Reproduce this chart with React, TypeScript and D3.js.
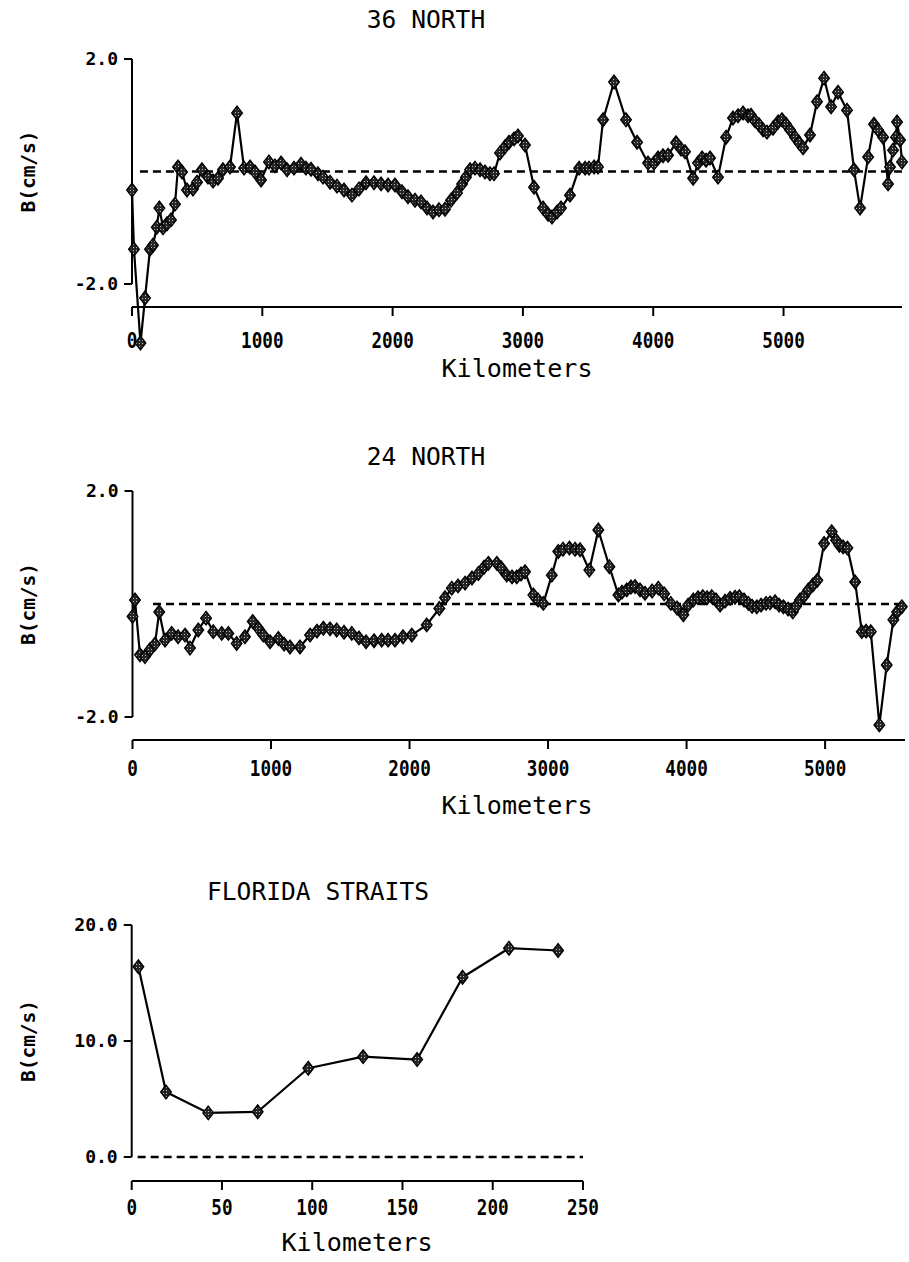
import React from "react";
import * as d3 from "d3";

// ---------- DATA ----------
// 36 NORTH: [kilometers, B (cm/s)]
const north36: [number, number][] = [
  [0, -0.33], [15, -1.38], [65, -3.05], [100, -2.25], [138, -1.38], [161, -1.31], [190, -0.99], [210, -0.65],
  [238, -1.0], [269, -0.93], [299, -0.86], [330, -0.58], [353, 0.08], [384, -0.01], [422, -0.33], [468, -0.31],
  [499, -0.19], [537, 0.03], [583, -0.1], [622, -0.17], [660, -0.12], [698, 0.03], [752, 0.08], [806, 1.04],
  [860, 0.06], [906, 0.08], [944, -0.01], [990, -0.15], [1051, 0.17], [1097, 0.1], [1144, 0.15], [1190, 0.03],
  [1243, 0.06], [1297, 0.13], [1335, 0.06], [1374, 0.04], [1427, -0.04], [1466, -0.1], [1520, -0.19], [1573, -0.26],
  [1627, -0.33], [1688, -0.42], [1742, -0.31], [1796, -0.2], [1857, -0.2], [1911, -0.22], [1965, -0.24], [2018, -0.24],
  [2072, -0.36], [2118, -0.45], [2172, -0.51], [2218, -0.54], [2264, -0.65], [2310, -0.72], [2356, -0.68], [2402, -0.67],
  [2448, -0.51], [2494, -0.38], [2533, -0.22], [2563, -0.1], [2594, 0.03], [2632, 0.06], [2671, 0.03], [2709, -0.01],
  [2747, -0.04], [2778, -0.04], [2824, 0.33], [2863, 0.44], [2893, 0.52], [2932, 0.58], [2962, 0.63], [3016, 0.47],
  [3085, -0.28], [3154, -0.65], [3193, -0.76], [3223, -0.81], [3262, -0.72], [3292, -0.65], [3361, -0.42], [3431, 0.06],
  [3477, 0.06], [3507, 0.06], [3546, 0.08], [3576, 0.08], [3615, 0.92], [3699, 1.59], [3791, 0.92], [3876, 0.52],
  [3960, 0.15], [4006, 0.15], [4037, 0.24], [4075, 0.28], [4114, 0.29], [4175, 0.51], [4213, 0.4], [4244, 0.35],
  [4306, -0.12], [4344, 0.15], [4375, 0.24], [4405, 0.2], [4436, 0.24], [4497, -0.1], [4559, 0.61], [4612, 0.95],
  [4651, 0.99], [4689, 1.04], [4727, 0.99], [4750, 1.0], [4781, 0.9], [4812, 0.83], [4843, 0.74], [4873, 0.7],
  [4919, 0.77], [4958, 0.88], [4988, 0.92], [5019, 0.84], [5050, 0.74], [5088, 0.61], [5119, 0.51], [5150, 0.42],
  [5203, 0.65], [5257, 1.24], [5311, 1.66], [5365, 1.15], [5418, 1.41], [5487, 1.09], [5541, 0.03], [5587, -0.65],
  [5649, 0.26], [5694, 0.84], [5725, 0.74], [5764, 0.61], [5802, -0.22], [5817, 0.08], [5840, 0.38], [5863, 0.61],
  [5871, 0.88], [5894, 0.56], [5909, 0.17],
];

// 24 NORTH: [kilometers, B (cm/s)]
const north24: [number, number][] = [
  [0, -0.22], [18, 0.07], [54, -0.9], [90, -0.93], [126, -0.81], [162, -0.71], [193, -0.14], [235, -0.64],
  [283, -0.52], [329, -0.58], [379, -0.55], [415, -0.78], [475, -0.46], [531, -0.25], [583, -0.49], [644, -0.52],
  [692, -0.52], [752, -0.7], [812, -0.58], [868, -0.31], [908, -0.43], [944, -0.55], [993, -0.67], [1053, -0.61],
  [1094, -0.71], [1137, -0.76], [1209, -0.76], [1282, -0.55], [1332, -0.48], [1378, -0.43], [1426, -0.44], [1474, -0.46],
  [1527, -0.5], [1583, -0.52], [1635, -0.6], [1686, -0.67], [1744, -0.65], [1799, -0.64], [1845, -0.64], [1895, -0.64],
  [1953, -0.58], [2016, -0.55], [2124, -0.37], [2215, -0.08], [2256, 0.11], [2305, 0.28], [2350, 0.32], [2401, 0.37],
  [2451, 0.46], [2497, 0.54], [2538, 0.65], [2569, 0.72], [2630, 0.72], [2661, 0.64], [2702, 0.51], [2740, 0.48],
  [2774, 0.48], [2805, 0.53], [2834, 0.57], [2894, 0.16], [2928, 0.07], [2966, 0.01], [3027, 0.51], [3074, 0.93],
  [3108, 0.97], [3154, 0.99], [3195, 0.97], [3231, 0.96], [3298, 0.6], [3363, 1.31], [3443, 0.66], [3508, 0.16],
  [3534, 0.21], [3568, 0.25], [3599, 0.3], [3628, 0.31], [3664, 0.25], [3700, 0.19], [3751, 0.23], [3796, 0.28],
  [3838, 0.18], [3886, 0.01], [3931, -0.07], [3977, -0.19], [4011, -0.02], [4049, 0.07], [4083, 0.11], [4117, 0.13],
  [4148, 0.11], [4182, 0.13], [4213, 0.07], [4242, -0.02], [4278, 0.05], [4314, 0.1], [4350, 0.12], [4381, 0.13],
  [4415, 0.07], [4446, 0.01], [4473, -0.04], [4507, -0.05], [4538, -0.02], [4574, 0.01], [4603, 0.02], [4639, 0.04],
  [4668, -0.02], [4699, -0.05], [4733, -0.09], [4767, -0.14], [4791, -0.04], [4819, 0.07], [4848, 0.14], [4879, 0.25],
  [4913, 0.34], [4944, 0.42], [4993, 1.07], [5048, 1.28], [5079, 1.13], [5103, 1.04], [5130, 1.01], [5161, 0.99],
  [5217, 0.39], [5265, -0.49], [5296, -0.48], [5330, -0.49], [5392, -2.14], [5445, -1.08], [5493, -0.28], [5520, -0.14],
  [5554, -0.05],
];

// FLORIDA STRAITS: [kilometers, B (cm/s)]
const florida: [number, number][] = [
  [3.7, 16.4], [19, 5.6], [42.4, 3.8], [69.8, 3.9], [97.8, 7.65], [128.2, 8.65], [158.1, 8.4], [183.3, 15.5],
  [209, 18.0], [236.2, 17.8],
];

const ticks36X = [0, 1000, 2000, 3000, 4000, 5000];
const ticks24X = [0, 1000, 2000, 3000, 4000, 5000];
const ticksFlX = [0, 50, 100, 150, 200, 250];
const ticks36Y = [-2, 2];
const ticks24Y = [-2, 2];
const ticksFlY = [0, 10, 20];

const titles = ["36 NORTH", "24 NORTH", "FLORIDA STRAITS"];
const xLabel = "Kilometers";
const yLabel = "B(cm/s)";

// ---------- LAYOUT ----------
const FONT = "'DejaVu Sans Mono', 'Liberation Mono', monospace";

type PanelCfg = {
  data: [number, number][];
  xDomain: [number, number];
  xRange: [number, number];
  yDomain: [number, number];
  yRange: [number, number];
  xTicks: number[];
  yTicks: number[];
  xAxisY: number;
  zeroFrom: number;
  title: string;
  titleX: number;
  titleY: number;
  tickLabelY: number;
  kmX: number;
  kmY: number;
  yLabelX: number;
};

const panels: PanelCfg[] = [
  {
    data: north36, xDomain: [0, 5909], xRange: [132, 902], yDomain: [-2, 2], yRange: [284, 59],
    xTicks: ticks36X, yTicks: ticks36Y, xAxisY: 307, zeroFrom: 61, title: titles[0],
    titleX: 426, titleY: 28, tickLabelY: 348, kmX: 517, kmY: 377, yLabelX: 28,
  },
  {
    data: north24, xDomain: [0, 5577], xRange: [132.5, 905], yDomain: [-2, 2], yRange: [717, 491],
    xTicks: ticks24X, yTicks: ticks24Y, xAxisY: 740, zeroFrom: 148, title: titles[1],
    titleX: 426, titleY: 465, tickLabelY: 776, kmX: 517, kmY: 814, yLabelX: 28,
  },
  {
    data: florida, xDomain: [0, 250], xRange: [131.7, 583], yDomain: [0, 20], yRange: [1157, 925],
    xTicks: ticksFlX, yTicks: ticksFlY, xAxisY: 1181, zeroFrom: 3.3, title: titles[2],
    titleX: 318, titleY: 900, tickLabelY: 1215, kmX: 357, kmY: 1251, yLabelX: 28,
  },
];

function diamond(x: number, y: number, w = 5.3, h = 6.8) {
  return `M${x},${y - h}L${x + w},${y}L${x},${y + h}L${x - w},${y}Z`;
}

function Panel({ cfg }: { cfg: PanelCfg }) {
  const x = d3.scaleLinear().domain(cfg.xDomain).range(cfg.xRange);
  const y = d3.scaleLinear().domain(cfg.yDomain).range(cfg.yRange);
  const line = d3
    .line<[number, number]>()
    .x((d) => x(d[0]))
    .y((d) => y(d[1]));
  const x0 = cfg.xRange[0];
  const yTop = y(d3.max(cfg.yTicks) as number);
  const yBot = y(d3.min(cfg.yTicks) as number);
  const yMid = (cfg.yRange[0] + cfg.yRange[1]) / 2;
  return (
    <g>
      <text
        x={cfg.titleX}
        y={cfg.titleY}
        textAnchor="middle"
        fontFamily={FONT}
        fontSize={25}
        textLength={cfg.title.length * 14.8}
        lengthAdjust="spacingAndGlyphs"
        fill="#000"
      >
        {cfg.title}
      </text>
      {/* y axis */}
      <line x1={x0} x2={x0} y1={yTop} y2={yBot} stroke="#000" strokeWidth={2} />
      {cfg.yTicks.map((t) => (
        <g key={"yt" + t}>
          <line x1={x0 - 8} x2={x0} y1={y(t)} y2={y(t)} stroke="#000" strokeWidth={2} />
          <text
            x={x0 - 14}
            y={y(t) + 6}
            textAnchor="end"
            fontFamily={FONT}
            fontWeight="bold"
            fontSize={18}
            fill="#000"
          >
            {t.toFixed(1)}
          </text>
        </g>
      ))}
      <text
        transform={`translate(${cfg.yLabelX},${yMid}) rotate(-90)`}
        textAnchor="middle"
        dominantBaseline="central"
        fontFamily={FONT}
        fontWeight="bold"
        fontSize={19}
        textLength={82}
        lengthAdjust="spacingAndGlyphs"
        fill="#000"
      >
        {yLabel}
      </text>
      {/* x axis */}
      <line x1={x0} x2={cfg.xRange[1]} y1={cfg.xAxisY} y2={cfg.xAxisY} stroke="#000" strokeWidth={2.2} />
      {cfg.xTicks.map((t) => (
        <g key={"xt" + t}>
          <line x1={x(t)} x2={x(t)} y1={cfg.xAxisY} y2={cfg.xAxisY + 9} stroke="#000" strokeWidth={2} />
          <text
            x={x(t)}
            y={cfg.tickLabelY}
            textAnchor="middle"
            fontFamily={FONT}
            fontWeight="bold"
            fontSize={22}
            textLength={String(t).length * 10.6}
            lengthAdjust="spacingAndGlyphs"
            fill="#000"
          >
            {String(t)}
          </text>
        </g>
      ))}
      <text
        x={cfg.kmX}
        y={cfg.kmY}
        textAnchor="middle"
        fontFamily={FONT}
        fontSize={25}
        textLength={151}
        lengthAdjust="spacingAndGlyphs"
        fill="#000"
      >
        {xLabel}
      </text>
      {/* zero reference */}
      <line
        x1={x(cfg.zeroFrom)}
        x2={cfg.xRange[1]}
        y1={y(0)}
        y2={y(0)}
        stroke="#000"
        strokeWidth={2.6}
        strokeDasharray="8,5"
      />
      {/* series */}
      <path d={line(cfg.data) || ""} fill="none" stroke="#000" strokeWidth={2.2} strokeLinejoin="round" />
      {cfg.data.map((d, i) => (
        <path key={i} d={diamond(x(d[0]), y(d[1]))} fill="url(#halftone)" stroke="#000" strokeWidth={1.4} />
      ))}
    </g>
  );
}

export default function App() {
  return (
    <svg
      width={909}
      height={1262}
      viewBox="0 0 909 1262"
      style={{ position: "absolute", left: 0, top: 0, background: "#fff" }}
    >
      <defs>
        <pattern id="halftone" width={3} height={3} patternUnits="userSpaceOnUse">
          <rect width={3} height={3} fill="#262626" />
          <rect x={1} y={1} width={1} height={1} fill="#bdbdbd" />
        </pattern>
      </defs>
      <rect width={909} height={1262} fill="#fff" />
      {panels.map((p, i) => (
        <Panel key={i} cfg={p} />
      ))}
    </svg>
  );
}
